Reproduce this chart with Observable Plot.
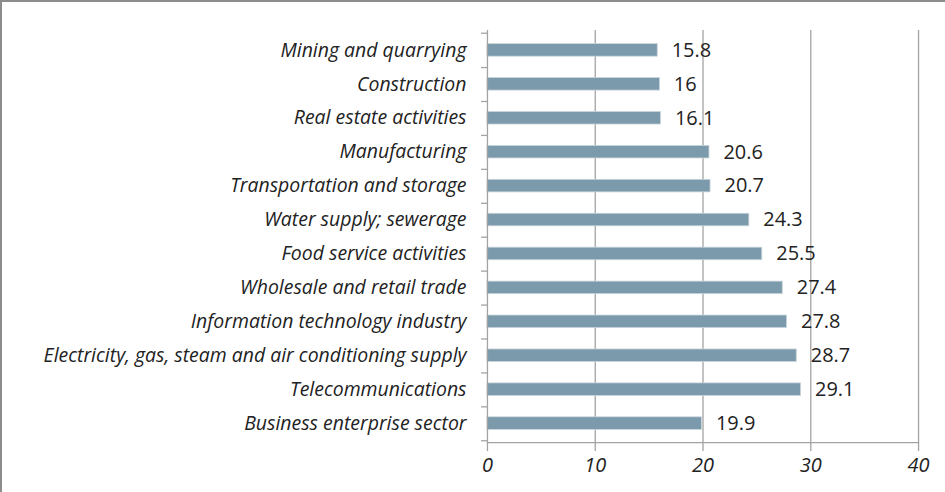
<!DOCTYPE html>
<html><head><meta charset="utf-8">
<script src="https://cdn.jsdelivr.net/npm/d3@7"></script>
<script src="https://cdn.jsdelivr.net/npm/@observablehq/plot@0.6"></script>
<style>
body{margin:0;background:#fff}
#chart{position:absolute;left:0;top:0;width:945px;height:492px;box-sizing:border-box;border-top:2px solid #8c8c8c;border-left:2px solid #8c8c8c;overflow:hidden}
#chart svg{position:absolute;left:-2px;top:-2px}
</style></head><body><div id="chart"></div>
<script>
const categories = [
  "Mining and quarrying",
  "Construction",
  "Real estate activities",
  "Manufacturing",
  "Transportation and storage",
  "Water supply; sewerage",
  "Food service activities",
  "Wholesale and retail trade",
  "Information technology industry",
  "Electricity, gas, steam and air conditioning supply",
  "Telecommunications",
  "Business enterprise sector"
];
const values = [15.8, 16, 16.1, 20.6, 20.7, 24.3, 25.5, 27.4, 27.8, 28.7, 29.1, 19.9];
const xTicks = [0, 10, 20, 30, 40];

const data = categories.map((c, i) => ({category: c, value: values[i]}));
const W = 945, H = 492;
const marginTop = 30, marginBottom = 49, marginLeft = 488, marginRight = 25;
const step = (H - marginTop - marginBottom) / categories.length;
const barH = 13;
const inset = (step - barH) / 2;
const gridColor = "#a3a3a3";

const chart = Plot.plot({
  width: W, height: H, marginTop, marginBottom, marginLeft, marginRight,
  style: {background: "transparent", fontFamily: "Open Sans, sans-serif", color: "#222"},
  x: {domain: [0, 40]},
  y: {domain: categories, padding: 0},
  marks: [
    Plot.ruleX(xTicks.slice(1), {stroke: gridColor, strokeWidth: 1.3}),
    Plot.barX(data, {x: "value", y: "category", fill: "#7b9aab", stroke: "#c9d5dc", strokeWidth: 0.8, insetTop: inset, insetBottom: inset}),
    Plot.ruleX([0], {stroke: gridColor, strokeWidth: 1.3}),
    Plot.ruleY(categories, {y: d => d, x1: -0.55, x2: 0, dy: step / 2, stroke: gridColor, strokeWidth: 1.3}),
    Plot.ruleY(categories.slice(0, 1), {y: d => d, x1: -0.55, x2: 0, dy: -step / 2, stroke: gridColor, strokeWidth: 1.3}),
    Plot.frame({anchor: "bottom", stroke: gridColor, strokeWidth: 1.3}),
    Plot.axisX({ticks: xTicks, tickSize: 9, tickPadding: 6, fontSize: 20, fontStyle: "italic", label: null, stroke: gridColor, strokeWidth: 1.3, fill: "#222", strokeOpacity: 1}),
    Plot.axisY({tickSize: 0, tickPadding: 21, fontSize: 19.5, fontStyle: "italic", label: null, fill: "#222"}),
    Plot.text(data, {x: "value", y: "category", text: d => String(d.value), textAnchor: "start", dx: 14, fontSize: 20, fontFamily: "Open Sans, sans-serif", fill: "#222"})
  ]
});
document.getElementById("chart").appendChild(chart);
</script>
</body></html>
